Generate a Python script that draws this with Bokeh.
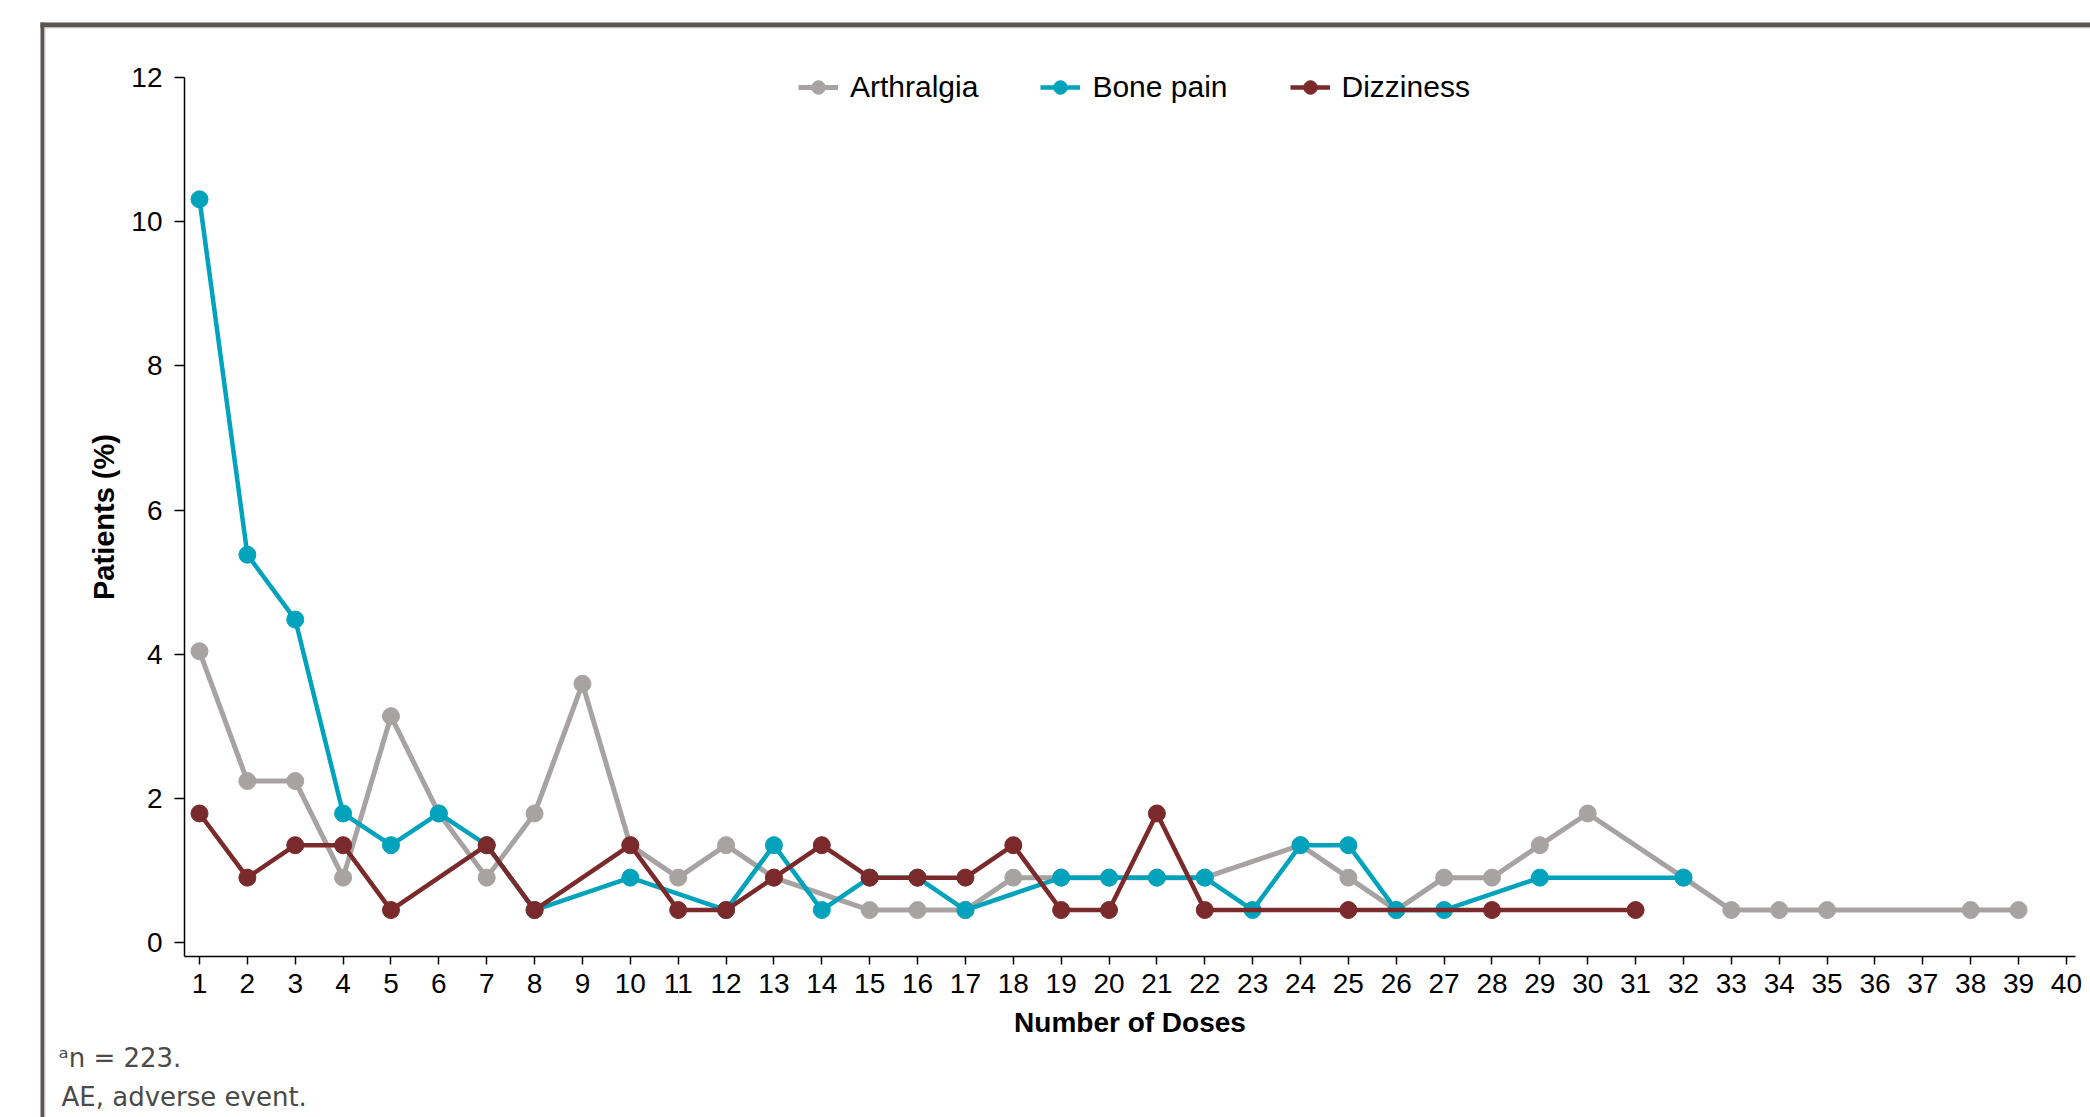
from bokeh.plotting import figure
from bokeh.models import Range1d, FixedTicker, Legend, LegendItem, Label, BoxAnnotation
from bokeh.embed import file_html
from bokeh.resources import INLINE

# ---- data (percent of patients, n = 223) ----
doses = list(range(1, 41))
y_ticks = [0, 2, 4, 6, 8, 10, 12]

arth_x = [1, 2, 3, 4, 5, 6, 7, 8, 9, 10, 11, 12, 13, 15, 16, 17, 18, 19, 20, 21, 22,
          24, 25, 26, 27, 28, 29, 30, 32, 33, 34, 35, 38, 39]
arth_y = [4.04, 2.24, 2.24, 0.90, 3.14, 1.79, 0.90, 1.79, 3.59, 1.35, 0.90, 1.35, 0.90,
          0.45, 0.45, 0.45, 0.90, 0.90, 0.90, 0.90, 0.90,
          1.35, 0.90, 0.45, 0.90, 0.90, 1.35, 1.79, 0.90, 0.45, 0.45, 0.45, 0.45, 0.45]

bone_x = [1, 2, 3, 4, 5, 6, 7, 8, 10, 12, 13, 14, 15, 16, 17, 19, 20, 21, 22, 23, 24,
          25, 26, 27, 29, 32]
bone_y = [10.31, 5.38, 4.48, 1.79, 1.35, 1.79, 1.35, 0.45, 0.90, 0.45, 1.35, 0.45, 0.90,
          0.90, 0.45, 0.90, 0.90, 0.90, 0.90, 0.45, 1.35, 1.35, 0.45, 0.45, 0.90, 0.90]

diz_x = [1, 2, 3, 4, 5, 7, 8, 10, 11, 12, 13, 14, 15, 16, 17, 18, 19, 20, 21, 22, 25, 28, 31]
diz_y = [1.79, 0.90, 1.35, 1.35, 0.45, 1.35, 0.45, 1.35, 0.45, 0.45, 0.90, 1.35, 0.90,
         0.90, 0.90, 1.35, 0.45, 0.45, 1.79, 0.45, 0.45, 0.45, 0.45]

series_names = ["Arthralgia", "Bone pain", "Dizziness"]
series_colors = ["#a8a3a3", "#00a3bb", "#7a2a2b"]
series_widths = [5, 4.5, 4.5]

footnotes = ["ᵃn = 223.", "AE, adverse event."]

FONT = "'Liberation Sans', Arial, Helvetica, sans-serif"

W, H = 2090, 1117
PXX = 47.87          # pixels per dose
PXY = 72.08          # pixels per percent
X_START = 1 - 199 / PXX
X_END = X_START + W / PXX
Y_END = 942 / PXY
Y_START = Y_END - H / PXY


def px2x(px):
    return X_START + px / PXX


def py2y(py):
    return Y_END - py / PXY


p = figure(width=W, height=H,
           x_range=Range1d(X_START, X_END), y_range=Range1d(Y_START, Y_END),
           output_backend="svg", toolbar_location=None,
           min_border=0, min_border_left=0, min_border_right=0,
           min_border_top=0, min_border_bottom=0)
p.outline_line_color = None
p.xgrid.visible = False
p.ygrid.visible = False
p.background_fill_color = "white"
p.border_fill_color = "white"

# axes (drawn at fixed positions inside the full-canvas frame)
xa, ya = p.xaxis[0], p.yaxis[0]
xa.fixed_location = py2y(956)
xa.bounds = (px2x(184), px2x(2075))
ya.fixed_location = px2x(184)
ya.bounds = (py2y(956), 12)
xa.ticker = FixedTicker(ticks=doses)
ya.ticker = FixedTicker(ticks=y_ticks)
for ax in (xa, ya):
    ax.axis_line_color = "black"
    ax.axis_line_width = 1.5
    ax.major_tick_line_color = "black"
    ax.major_tick_line_width = 1.5
    ax.major_tick_in = 0
    ax.minor_tick_line_color = None
    ax.major_label_text_font = FONT
    ax.major_label_text_font_size = "28px"
    ax.major_label_text_color = "black"
    ax.axis_label_text_font = FONT
    ax.axis_label_text_font_style = "bold"
    ax.axis_label_text_color = "black"
xa.major_tick_out = 8
ya.major_tick_out = 10
xa.major_label_standoff = 9
ya.major_label_standoff = 12
xa.axis_label = "Number of Doses"
ya.axis_label = "Patients (%)"
xa.axis_label_text_font_size = "28px"
ya.axis_label_text_font_size = "29px"
xa.axis_label_standoff = 11
ya.axis_label_standoff = 8

# series
items = []
for name, xs, ys, col, lw in zip(series_names, [arth_x, bone_x, diz_x], [arth_y, bone_y, diz_y],
                                 series_colors, series_widths):
    r_line = p.line(xs, ys, line_color=col, line_width=lw)
    r_pts = p.scatter(xs, ys, marker="circle", size=17, fill_color=col, line_color=col)
    items.append(LegendItem(label=name, renderers=[r_line, r_pts]))

legend = Legend(items=items, orientation="horizontal", location=(798, H - 104),
                glyph_width=40, glyph_height=34, label_height=34,
                label_standoff=12, spacing=62, padding=0, margin=0,
                border_line_color=None, background_fill_alpha=0,
                label_text_font=FONT, label_text_font_size="30px",
                label_text_color="black")
p.add_layout(legend, "center")

# outer frame box (left and top edges)
frame_col = "#5c5353"
light_col = "#d6d2d2"
for (l, r, t, b, c) in [(40, 44, 22, H, frame_col),
                        (40, W, 22, 27, frame_col),
                        (44, W, 27, 28, light_col),
                        (44, 45, 27, H, light_col)]:
    p.add_layout(BoxAnnotation(left=px2x(l), right=px2x(r), top=py2y(t), bottom=py2y(b),
                               fill_color=c, fill_alpha=1, line_color=None,
                               level="overlay"))

# footnotes
foot_font = "DejaVu Sans"
for txt, px, py in zip(footnotes, [58, 61], [1057, 1096]):
    p.add_layout(Label(x=px2x(px), y=py2y(py), text=txt,
                       text_font=foot_font, text_font_size="26px", text_color="#4a4a4a",
                       text_baseline="alphabetic", text_align="left"))

open("out.html", "w").write(file_html(p, INLINE))
